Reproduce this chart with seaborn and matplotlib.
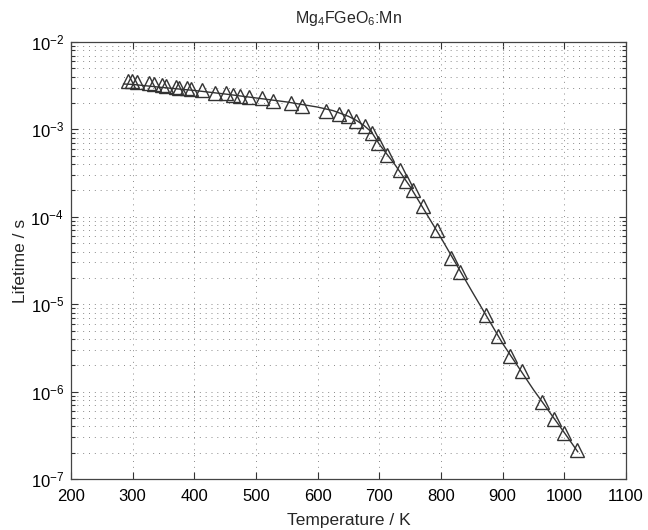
import numpy as np
import pandas as pd
import matplotlib
matplotlib.use("Agg")
import matplotlib.pyplot as plt
import seaborn as sns
from matplotlib.ticker import LogLocator, MultipleLocator, NullFormatter

# measured points
temp_K = [292.9, 298.9, 306.5, 327.0, 334.6, 347.1, 353.6, 370.3, 375.1, 387.6,
          394.1, 411.9, 433.5, 451.4, 463.2, 474.1, 489.1, 509.2, 528.1, 557.3,
          575.4, 614.3, 634.3, 648.4, 662.7, 676.0, 687.3, 698.3, 711.9, 733.5,
          743.7, 754.1, 770.3, 794.0, 815.7, 830.8, 873.0, 892.9, 911.9, 930.8,
          963.3, 983.7, 999.4, 1020.0]
lifetime_s = [3.61e-3, 3.58e-3, 3.52e-3, 3.37e-3, 3.30e-3, 3.20e-3, 3.14e-3, 3.08e-3, 2.98e-3, 2.98e-3,
              2.88e-3, 2.82e-3, 2.63e-3, 2.59e-3, 2.49e-3, 2.41e-3, 2.37e-3, 2.27e-3, 2.11e-3, 1.99e-3,
              1.87e-3, 1.63e-3, 1.52e-3, 1.42e-3, 1.25e-3, 1.09e-3, 9.2e-4, 7.0e-4, 5.1e-4, 3.4e-4,
              2.6e-4, 2.0e-4, 1.33e-4, 7.1e-5, 3.35e-5, 2.35e-5, 7.5e-6, 4.3e-6, 2.55e-6, 1.73e-6,
              7.7e-7, 4.9e-7, 3.33e-7, 2.15e-7]

# fitted curve
fit_T = [285, 300, 350, 400, 450, 500, 550, 600, 625, 650, 662.5, 675, 687.5, 700,
         725, 750, 800, 850, 900, 950, 1000, 1022]
fit_tau = [3.31e-3, 3.27e-3, 3.01e-3, 2.79e-3, 2.54e-3, 2.29e-3, 2.06e-3, 1.80e-3, 1.64e-3,
           1.41e-3, 1.27e-3, 1.11e-3, 9.3e-4, 6.76e-4, 3.98e-4, 2.21e-4, 5.75e-5, 1.41e-5,
           3.55e-6, 1.05e-6, 3.39e-7, 2.04e-7]

x_ticks = list(range(200, 1101, 100))

sns.set_style("ticks")
plt.rcParams['font.family'] = ['Liberation Sans', 'DejaVu Sans']
plt.rcParams['mathtext.fontset'] = 'custom'
plt.rcParams['mathtext.rm'] = 'Liberation Sans'
plt.rcParams['mathtext.it'] = 'Liberation Sans:italic'
plt.rcParams['mathtext.bf'] = 'Liberation Sans:bold'

fig = plt.figure(figsize=(6.48, 5.30), dpi=100)
ax = fig.add_axes([71/648, 1 - 479/530, (626 - 71)/648, (479 - 42)/530])
ax.set_yscale('log')

fit_df = pd.DataFrame({"T": fit_T, "tau": fit_tau})
pts_df = pd.DataFrame({"T": temp_K, "tau": lifetime_s})

sns.lineplot(data=fit_df, x="T", y="tau", ax=ax, color='#333333', lw=1.0,
             estimator=None, sort=False, zorder=3)
sns.lineplot(data=pts_df, x="T", y="tau", ax=ax, estimator=None, sort=False,
             linestyle='', marker='^', markersize=9.5, markerfacecolor='none',
             markeredgecolor='#333333', markeredgewidth=1.0, color='#333333', zorder=4)

ax.set_xlim(200, 1100)
ax.set_ylim(1e-7, 1e-2)
ax.set_xticks(x_ticks)
ax.set_xticklabels([str(t) for t in x_ticks])
ax.yaxis.set_major_locator(LogLocator(base=10, numticks=10))
ax.yaxis.set_minor_locator(LogLocator(base=10, subs=np.arange(2, 10), numticks=20))
ax.yaxis.set_minor_formatter(NullFormatter())

grid_kw = dict(color='#8a8a8a', linestyle=(0, (1, 5)), linewidth=0.7)
ax.grid(which='major', axis='both', **grid_kw)
ax.grid(which='minor', axis='y', **grid_kw)
ax.set_axisbelow(True)

ax.tick_params(which='both', direction='in', top=True, right=True, colors='#333333',
               labelcolor='black', labelsize=12, width=0.8)
ax.tick_params(which='major', length=5)
ax.tick_params(axis='x', which='major', pad=7)
ax.tick_params(axis='y', which='major', pad=5)
ax.tick_params(which='minor', length=3)
for s in ax.spines.values():
    s.set_color('#444444')
    s.set_linewidth(0.9)

ax.set_xlabel('Temperature / K', fontsize=12.5, labelpad=7)
ax.set_ylabel('Lifetime / s', fontsize=12.5, labelpad=2)
ax.set_title('Mg$_4$FGeO$_6$:Mn', fontsize=11.5, pad=14)

fig.savefig('out.png', dpi=100)
